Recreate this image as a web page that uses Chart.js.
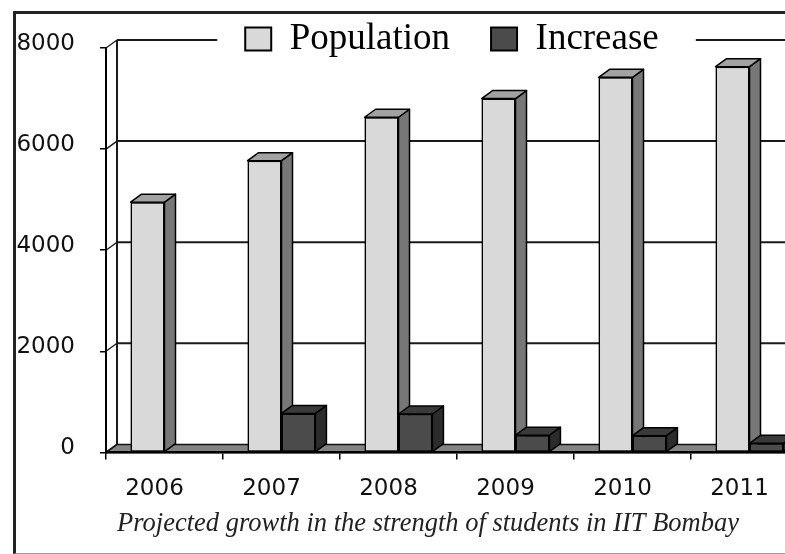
<!DOCTYPE html>
<html><head><meta charset="utf-8">
<script src="https://cdn.jsdelivr.net/npm/chart.js@4.4.1/dist/chart.umd.min.js"></script>
<style>
html,body{margin:0;padding:0;background:#fff;overflow:hidden;width:785px;height:554px;}
#wrap{position:relative;width:785px;height:554px;overflow:hidden;background:#fff;}
#c{position:absolute;left:0;top:0;}
#frame{position:absolute;left:13px;top:11px;width:800px;height:539px;border-left:3px solid #222;border-top:3px solid #222;border-bottom:1px solid #999;pointer-events:none;}
</style></head><body>
<div id="wrap"><canvas id="c" width="856" height="554"></canvas><div id="frame"></div></div>
<script>
// ---- data ----
const categories = ['2006', '2007', '2008', '2009', '2010', '2011'];
const population = [4950, 5770, 6630, 7000, 7420, 7630];
const increase = [0, 770, 760, 340, 330, 180];
const yTicks = [0, 2000, 4000, 6000, 8000];
const seriesNames = ['Population', 'Increase'];
const caption = 'Projected growth in the strength of students in IIT Bombay';

// ---- styling ----
const DX = 11, DY = 8;
const frontColors = ['#d9d9d9', '#4b4b4b'];
const faceColors = [
  { top: '#a2a2a2', side: '#777777' },
  { top: '#3a3a3a', side: '#2c2c2c' }
];

function poly(ctx, pts, fill) {
  ctx.beginPath();
  ctx.moveTo(pts[0][0], pts[0][1]);
  for (let i = 1; i < pts.length; i++) ctx.lineTo(pts[i][0], pts[i][1]);
  ctx.closePath();
  ctx.fillStyle = fill; ctx.fill(); ctx.stroke();
}

const threeD = {
  id: 'threeD',
  afterLayout(chart) {
    const lg = chart.legend;
    const a = chart.chartArea;
    if (lg) {
      lg.top = -20.5; lg.height = 100; lg.bottom = lg.top + lg.height;
      lg.left = a.left - 10; lg.right = a.right; lg.width = lg.right - lg.left;
    }
    const tb = chart.titleBlock;
    if (tb) { tb.left = 48; tb.right = a.right; tb.width = tb.right - tb.left; }
  },
  beforeDraw(chart) {
    const { ctx, chartArea: a, scales: { y } } = chart;
    ctx.save();
    const b = y.getPixelForValue(0);
    // floor
    ctx.strokeStyle = '#111'; ctx.lineWidth = 1.5; ctx.lineJoin = 'round';
    poly(ctx, [[a.left, b], [chart.width, b], [chart.width, b - DY], [a.left + DX, b - DY]], '#848484');
    // back wall left edge
    ctx.lineWidth = 2; ctx.strokeStyle = '#1a1a1a';
    ctx.beginPath();
    ctx.moveTo(a.left + DX, y.getPixelForValue(yTicks[yTicks.length - 1]) - DY);
    ctx.lineTo(a.left + DX, b - DY);
    ctx.stroke();
    // gridlines on back wall
    const hb = chart.legend.legendHitBoxes;
    const gapL = hb[0].left - 28;
    const last = hb[hb.length - 1];
    const gapR = last.left + last.width + 37;
    const rowMid = hb[0].top + hb[0].height / 2;
    yTicks.forEach(v => {
      const py = y.getPixelForValue(v);
      ctx.lineWidth = 1.3;
      ctx.beginPath(); ctx.moveTo(a.left, py); ctx.lineTo(a.left + DX, py - DY); ctx.stroke();
      if (v === 0) return;
      const gy = py - DY;
      ctx.lineWidth = 2;
      ctx.beginPath();
      if (Math.abs(gy - rowMid) < 25) {
        ctx.moveTo(a.left + DX, gy); ctx.lineTo(gapL, gy);
        ctx.moveTo(gapR, gy); ctx.lineTo(chart.width, gy);
      } else {
        ctx.moveTo(a.left + DX, gy); ctx.lineTo(chart.width, gy);
      }
      ctx.stroke();
    });
    ctx.restore();
  },
  afterDatasetsDraw(chart) {
    const ctx = chart.ctx;
    const metas = [chart.getDatasetMeta(0), chart.getDatasetMeta(1)];
    ctx.save();
    for (let i = 0; i < categories.length; i++) {
      for (let d = 0; d < metas.length; d++) {
        const el = metas[d].data[i];
        const { x, y, base, width } = el.getProps(['x', 'y', 'base', 'width'], true);
        if (Math.abs(base - y) < 0.5) continue;
        el.draw(ctx);
        const l = x - width / 2, r = x + width / 2;
        ctx.lineWidth = 1.5; ctx.strokeStyle = '#000'; ctx.lineJoin = 'round';
        poly(ctx, [[r, y], [r + DX, y - DY], [r + DX, base - DY], [r, base]], faceColors[d].side);
        poly(ctx, [[l, y], [l + DX, y - DY], [r + DX, y - DY], [r, y]], faceColors[d].top);
      }
    }
    ctx.restore();
  }
};

new Chart(document.getElementById('c'), {
  type: 'bar',
  data: {
    labels: categories,
    datasets: [
      { label: seriesNames[0], data: population, backgroundColor: frontColors[0], borderColor: '#000', borderWidth: 1.5, borderSkipped: false },
      { label: seriesNames[1], data: increase, backgroundColor: frontColors[1], borderColor: '#000', borderWidth: 1.5, borderSkipped: false }
    ]
  },
  options: {
    responsive: false,
    devicePixelRatio: 1,
    animation: false,
    layout: { padding: { left: 10, top: 47, right: 48, bottom: 0 } },
    datasets: { bar: { barPercentage: 1, categoryPercentage: 0.58 } },
    scales: {
      x: {
        afterFit: s => { s.height = 52.8; },
        border: { display: true, color: '#000', width: 2.5 },
        grid: { offset: true, drawOnChartArea: false, drawTicks: true, tickLength: 7, color: '#000', lineWidth: 1.5 },
        ticks: { font: { family: 'DejaVu Sans', size: 23 }, color: '#111', padding: 16, labelOffset: -10, maxRotation: 0, autoSkip: false }
      },
      y: {
        min: 0, max: 8000,
        afterFit: s => { s.width = 96; },
        afterBuildTicks: s => { s.ticks = yTicks.map(v => ({ value: v })); },
        border: { display: true, color: '#000', width: 2 },
        grid: { drawOnChartArea: false, drawTicks: true, tickLength: 6, color: '#000', lineWidth: 1.5 },
        ticks: { font: { family: 'DejaVu Sans', size: 23 }, color: '#111', padding: 25, labelOffset: -4, callback: v => String(v) }
      }
    },
    plugins: {
      tooltip: { enabled: false },
      legend: {
        position: 'top', align: 'center', maxHeight: 1,
        labels: {
          font: { family: 'Liberation Serif', size: 37 }, color: '#111',
          boxWidth: 26, boxHeight: 23, padding: 41,
          generateLabels: chart => chart.data.datasets.map((ds, i) => ({
            text: ds.label, fillStyle: ds.backgroundColor, strokeStyle: '#000',
            lineWidth: 2, hidden: false, datasetIndex: i
          }))
        }
      },
      title: {
        display: true, position: 'bottom', text: caption,
        font: { family: 'Liberation Serif', style: 'italic', size: 26.5, weight: 'normal' },
        color: '#222', padding: { top: 3, bottom: 14 }
      }
    }
  },
  plugins: [threeD]
});
</script>
</body></html>
